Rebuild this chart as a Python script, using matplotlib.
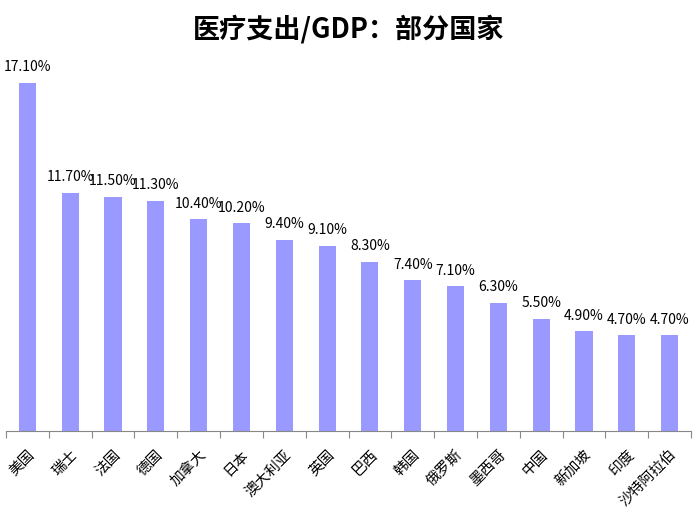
import matplotlib
matplotlib.use('Agg')
import matplotlib.pyplot as plt
import numpy as np

plt.rcParams['font.family'] = ['Noto Sans CJK SC', 'DejaVu Sans']

# Data
countries = ['美国', '瑞士', '法国', '德国', '加拿大', '日本', '澳大利亚', '英国',
             '巴西', '韩国', '俄罗斯', '墨西哥', '中国', '新加坡', '印度', '沙特阿拉伯']
spending = [17.1, 11.7, 11.5, 11.3, 10.4, 10.2, 9.4, 9.1,
            8.3, 7.4, 7.1, 6.3, 5.5, 4.9, 4.7, 4.7]

fig = plt.figure(figsize=(6.97, 5.22), dpi=100)
ax = fig.add_axes([0.0086, 0.1743, 0.9828, 0.7297])

x = np.arange(len(countries))
ax.bar(x, spending, width=0.4, color='#9999FF')

# Value labels above bars
for xi, v in zip(x, spending):
    ax.text(xi, v + 0.42, f'{v:.2f}%', ha='center', va='bottom', fontsize=10)

ax.set_xlim(-0.5, len(countries) - 0.5)
ax.set_ylim(0, 18.7)

# Only the bottom line, with ticks at category boundaries
for side in ['top', 'right', 'left']:
    ax.spines[side].set_visible(False)
ax.spines['bottom'].set_color('#888888')
ax.set_yticks([])
ax.set_xticks(np.arange(-0.5, len(countries)))
ax.set_xticklabels([])
ax.tick_params(axis='x', which='major', length=5, color='#888888')
ax.set_xticks(x, minor=True)
ax.set_xticklabels(countries, minor=True, rotation=45, ha='right', va='top',
                   rotation_mode='anchor', fontsize=10.5)
ax.tick_params(axis='x', which='minor', length=0, pad=12)

fig.suptitle('医疗支出/GDP：部分国家', fontsize=19.5, fontweight='bold', y=0.972)

plt.savefig('out.png', dpi=100)
plt.close()
